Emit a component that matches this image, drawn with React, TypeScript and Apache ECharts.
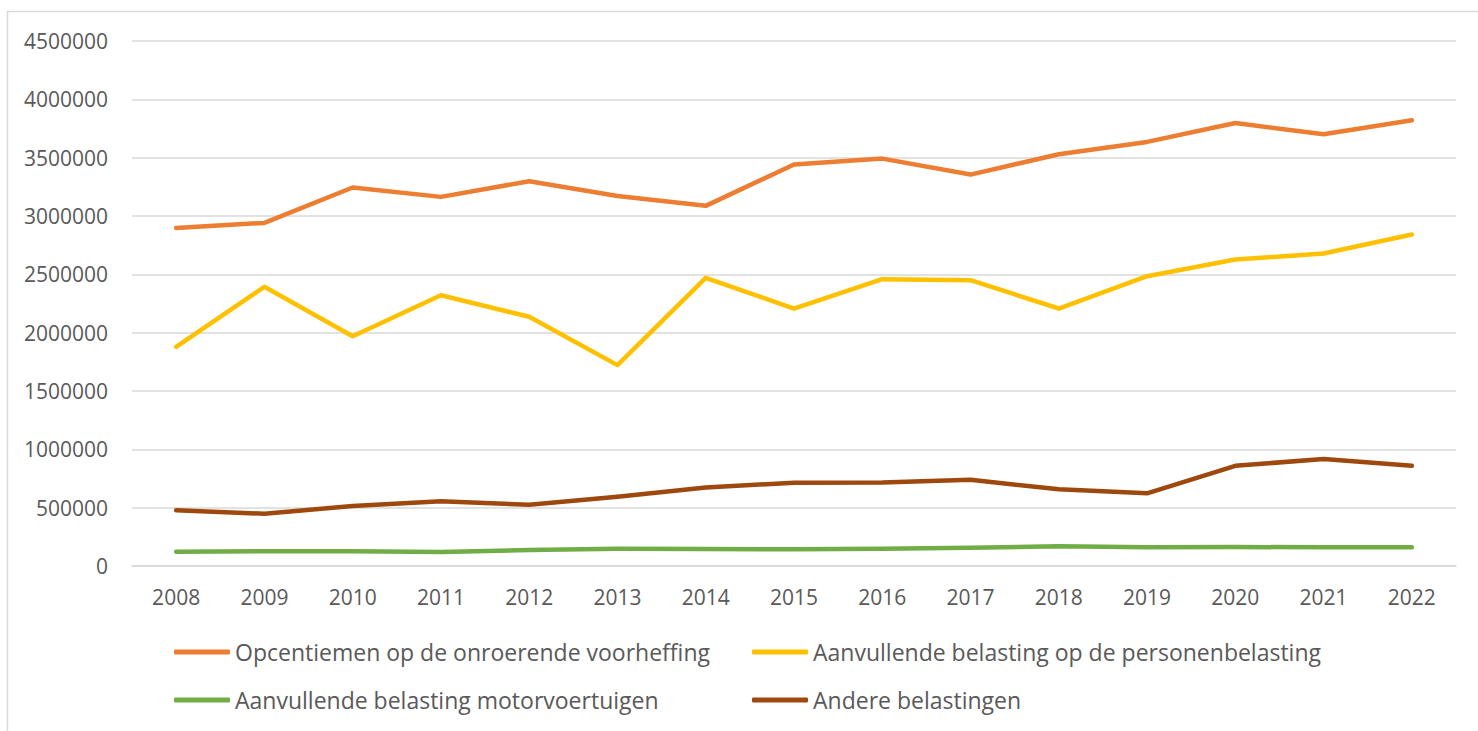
import React, { useEffect, useRef } from "react";
import * as echarts from "echarts";

const years = ["2008","2009","2010","2011","2012","2013","2014","2015","2016","2017","2018","2019","2020","2021","2022"];
const opcentiemen = [2898000, 2941000, 3244000, 3164000, 3298000, 3172000, 3087000, 3441000, 3492000, 3355000, 3529000, 3635000, 3797000, 3700000, 3820000];
const aanvullendePersonen = [1879000, 2393000, 1970000, 2321000, 2136000, 1722000, 2470000, 2207000, 2458000, 2450000, 2207000, 2484000, 2627000, 2678000, 2841000];
const motorvoertuigen = [122000, 126000, 126000, 120000, 137000, 148000, 146000, 143000, 148000, 157000, 169000, 160000, 163000, 160000, 160000];
const andere = [477000, 448000, 514000, 554000, 525000, 594000, 672000, 714000, 716000, 739000, 657000, 623000, 859000, 917000, 859000];

const names = [
  "Opcentiemen op de onroerende voorheffing",
  "Aanvullende belasting op de personenbelasting",
  "Aanvullende belasting motorvoertuigen",
  "Andere belastingen",
];
const colors = ["#ED7D31", "#FFC000", "#70AD47", "#9E480E"];

const FONT = "'Open Sans', sans-serif";

export default function App() {
  const ref = useRef<HTMLDivElement>(null);
  useEffect(() => {
    document.body.style.margin = "0";
    const chart = echarts.init(ref.current!, null, { renderer: "svg" });
    const datasets = [opcentiemen, aanvullendePersonen, motorvoertuigen, andere];
    const legendPos = [
      { left: 174, top: 639 },
      { left: 752, top: 639 },
      { left: 174, top: 687 },
      { left: 752, top: 687 },
    ];
    chart.setOption({
      animation: false,
      backgroundColor: "#ffffff",
      textStyle: { fontFamily: FONT },
      graphic: [
        {
          type: "rect",
          shape: { x: 7.5, y: 11.5, width: 1600, height: 900 },
          style: { fill: "none", stroke: "#D9D9D9", lineWidth: 1.5 },
          silent: true,
        },
      ],
      grid: { left: 132, right: 22, top: 41, bottom: 165, containLabel: false },
      xAxis: {
        type: "category",
        data: years,
        boundaryGap: true,
        axisLine: { show: true, lineStyle: { color: "#D9D9D9", width: 1.5 } },
        axisTick: { show: false },
        axisLabel: { color: "#595959", fontSize: 21, fontFamily: FONT, margin: 20 },
      },
      yAxis: {
        type: "value",
        min: 0,
        max: 4500000,
        interval: 500000,
        axisLine: { show: false },
        axisTick: { show: false },
        splitLine: { lineStyle: { color: "#D9D9D9", width: 1.5 } },
        axisLabel: {
          color: "#595959",
          fontSize: 21,
          fontFamily: FONT,
          margin: 24,
          formatter: (v: number) => String(Math.round(v)),
        },
      },
      legend: names.map((n, i) => ({
        data: [n],
        left: legendPos[i].left,
        top: legendPos[i].top,
        padding: 0,
        icon: "roundRect",
        itemWidth: 56,
        itemHeight: 5,
        textStyle: { color: "#595959", fontSize: 23, fontFamily: FONT, lineHeight: 26 },
      })),
      series: datasets.map((d, i) => ({
        name: names[i],
        type: "line",
        data: d,
        showSymbol: false,
        symbol: "none",
        lineStyle: { color: colors[i], width: 4.5, cap: "round", join: "round" },
        itemStyle: { color: colors[i] },
      })),
    });
    return () => chart.dispose();
  }, []);
  return <div ref={ref} style={{ position: "absolute", left: 0, top: 0, width: 1478, height: 731 }} />;
}
